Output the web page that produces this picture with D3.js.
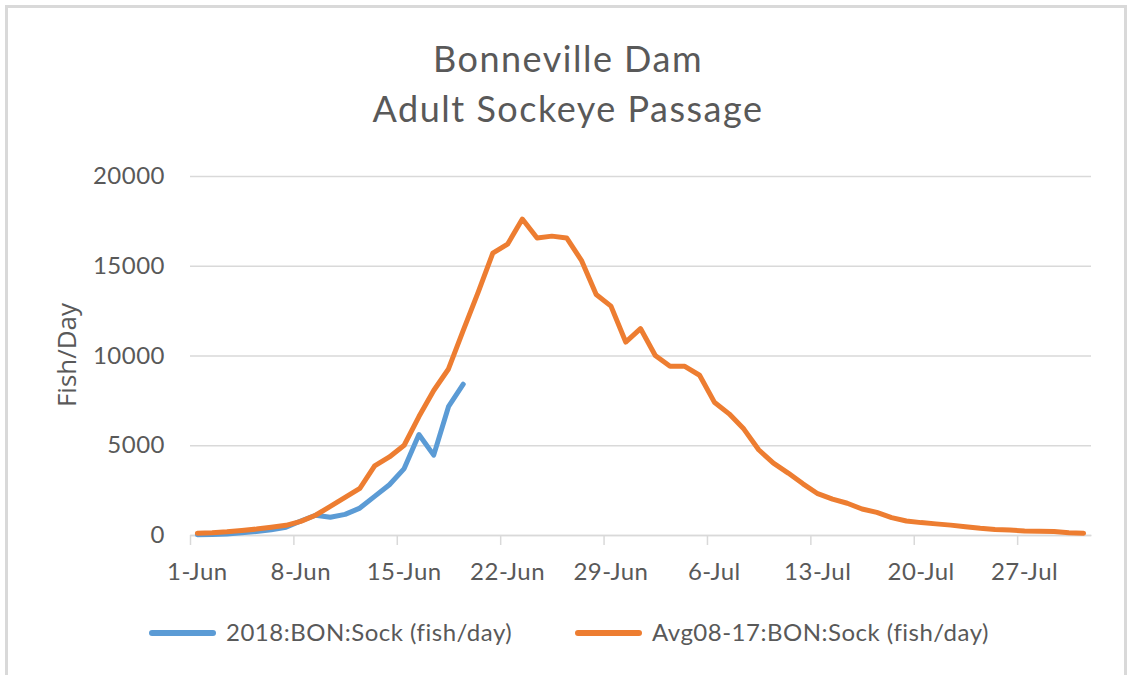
<!DOCTYPE html>
<html>
<head>
<meta charset="utf-8">
<script src="https://cdn.jsdelivr.net/npm/d3@7"></script>
<style>
  body { margin: 0; background: #fff; }
  text { font-family: Lato, "Open Sans", sans-serif; fill: #595959; }
</style>
</head>
<body>
<div id="chart"></div>
<script>
// day index 0 = 1-Jun, 60 = 31-Jul
var tickLabels = ["1-Jun", "8-Jun", "15-Jun", "22-Jun", "29-Jun", "6-Jul", "13-Jul", "20-Jul", "27-Jul"];
var yTicks = [0, 5000, 10000, 15000, 20000];

var sock2018 = [20, 30, 60, 120, 200, 290, 430, 780, 1100, 990, 1150, 1500, 2150, 2800, 3700,
  5600, 4450, 7150, 8400];

var avg0817 = [100, 130, 180, 250, 330, 430, 540, 760, 1100, 1600, 2100, 2600, 3850, 4350, 5000,
  6600, 8050, 9250, 11400, 13500, 15700, 16200, 17600, 16550, 16650, 16550, 15300, 13400, 12750,
  10750, 11500, 10000, 9400, 9400, 8900, 7400, 6750, 5900, 4750, 4000, 3450, 2850, 2300, 2000,
  1770, 1450, 1260, 970, 780, 690, 620, 550, 460, 370, 300, 280, 220, 210, 195, 120, 95];

var seriesNames = ["2018:BON:Sock (fish/day)", "Avg08-17:BON:Sock (fish/day)"];
var colors = ["#5B9BD5", "#ED7D31"];

var W = 1128, H = 675;
var margin = { top: 176, right: 37, bottom: 140, left: 190 },
    width = W - margin.left - margin.right,
    height = H - margin.top - margin.bottom;

var svg = d3.select("#chart").append("svg")
  .attr("width", W)
  .attr("height", H);

// chart border
svg.append("rect")
  .attr("x", 6.5).attr("y", 6.5)
  .attr("width", 1119).attr("height", H + 20)
  .attr("fill", "none")
  .attr("stroke", "#D9D9D9")
  .attr("stroke-width", 3);

var g = svg.append("g")
  .attr("transform", "translate(" + margin.left + "," + margin.top + ")");

var x = d3.scaleLinear().domain([-0.5, 60.5]).range([0, width]);
var y = d3.scaleLinear().domain([0, 20000]).range([height, 0]);

// gridlines + y labels
var yAxis = d3.axisLeft(y).tickValues(yTicks).tickSize(-width).tickPadding(25)
  .tickFormat(d3.format("d"));
var yg = g.append("g").attr("class", "y axis").call(yAxis);
yg.select(".domain").remove();
yg.selectAll(".tick line").attr("stroke", "#D9D9D9").attr("stroke-width", 1.5);
yg.selectAll(".tick text")
  .style("font-size", "24px")
  .style("letter-spacing", "0.5px")
  .attr("fill", "#595959");

// x axis: ticks between weeks, labels on the week start
var tickDays = tickLabels.map(function (d, i) { return i * 7; });
var xAxis = d3.axisBottom(x)
  .tickValues(tickDays.map(function (d) { return d - 0.5; }))
  .tickSizeInner(10)
  .tickSizeOuter(0)
  .tickFormat("");
var xg = g.append("g").attr("class", "x axis")
  .attr("transform", "translate(0," + height + ")")
  .call(xAxis);
xg.select(".domain").attr("stroke", "#D9D9D9").attr("stroke-width", 1.5);
xg.selectAll(".tick line").attr("stroke", "#D9D9D9").attr("stroke-width", 1.5);

g.selectAll(".xlabel")
  .data(tickLabels)
  .enter()
  .append("text")
  .attr("class", "xlabel")
  .attr("x", function (d, i) { return x(tickDays[i]); })
  .attr("y", height + 45)
  .attr("text-anchor", "middle")
  .style("font-size", "24px")
  .style("letter-spacing", "0.5px")
  .text(function (d) { return d; });

// lines
var line = d3.line()
  .x(function (d, i) { return x(i); })
  .y(function (d) { return y(d); });

[sock2018, avg0817].forEach(function (s, k) {
  g.append("path")
    .datum(s)
    .attr("fill", "none")
    .attr("stroke", colors[k])
    .attr("stroke-width", 5)
    .attr("stroke-linejoin", "round")
    .attr("stroke-linecap", "round")
    .attr("d", line);
});

// axis title
svg.append("text")
  .attr("transform", "translate(76,355) rotate(-90)")
  .attr("text-anchor", "middle")
  .style("font-family", "'Open Sans', sans-serif")
  .style("font-size", "26px")
  .text("Fish/Day");

// title
var titleLines = ["Bonneville Dam", "Adult Sockeye Passage"];
svg.selectAll(".title")
  .data(titleLines)
  .enter()
  .append("text")
  .attr("class", "title")
  .attr("x", 568)
  .attr("y", function (d, i) { return 72 + i * 50; })
  .attr("text-anchor", "middle")
  .style("font-size", "36px")
  .style("letter-spacing", "1.5px")
  .text(function (d) { return d; });

// legend
var legendX = [150, 576];
seriesNames.forEach(function (name, k) {
  var lg = svg.append("g").attr("transform", "translate(" + legendX[k] + ",633)");
  lg.append("line")
    .attr("x1", 2).attr("x2", 63)
    .attr("stroke", colors[k])
    .attr("stroke-width", 6)
    .attr("stroke-linecap", "round");
  lg.append("text")
    .attr("x", 76).attr("y", 8)
    .style("font-size", "24px")
    .style("letter-spacing", "0.5px")
    .text(name);
});
</script>
</body>
</html>
